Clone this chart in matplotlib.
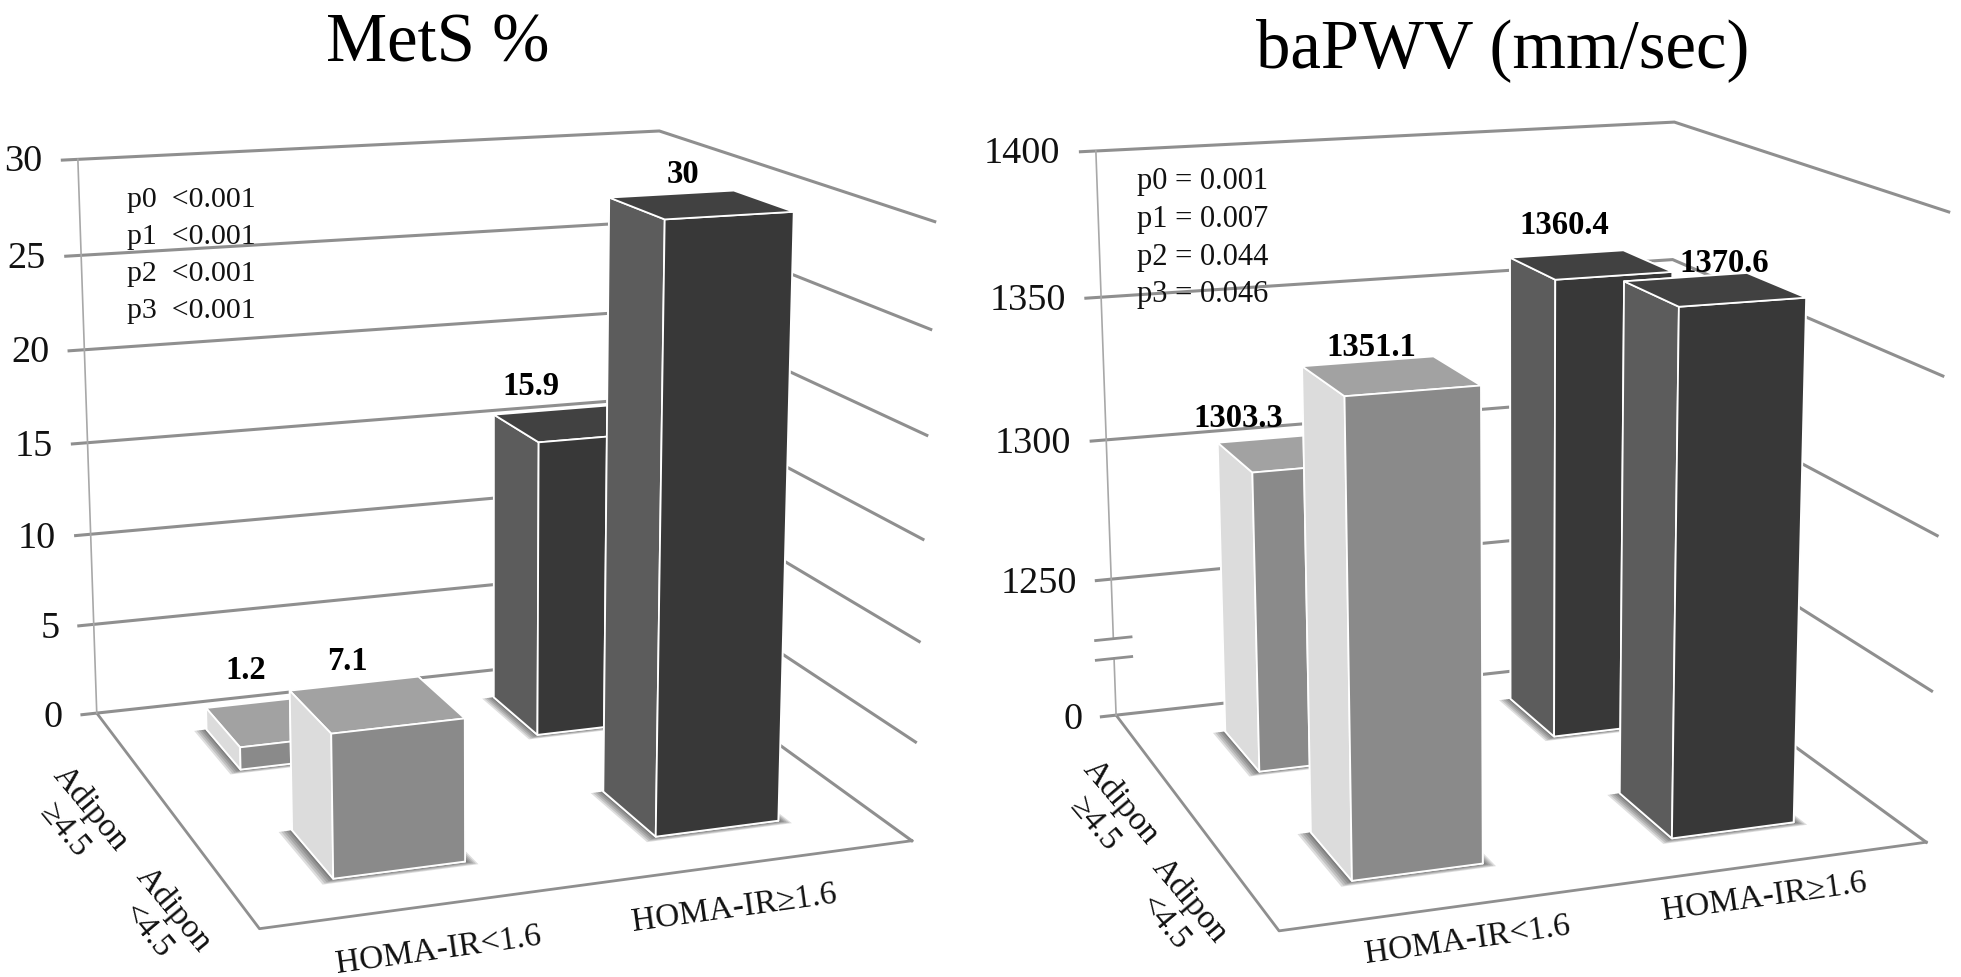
import numpy as np
import matplotlib
matplotlib.use('Agg')
import matplotlib.pyplot as plt
from mpl_toolkits.mplot3d import proj3d
from mpl_toolkits.mplot3d.art3d import Poly3DCollection

W, H = 1961, 978

homa_labels = ['HOMA-IR<1.6', 'HOMA-IR\u22651.6']
adipon_labels = ['Adipon\n\u22654.5', 'Adipon\n<4.5']

# rows: Adipon>=4.5 (back), Adipon<4.5 (front); columns: HOMA-IR groups
mets_back = [1.2, 15.9]
mets_front = [7.1, 30]
mets_ticks = [0, 5, 10, 15, 20, 25, 30]
mets_p = ['p0  <0.001', 'p1  <0.001', 'p2  <0.001', 'p3  <0.001']

pwv_back = [1303.3, 1360.4]
pwv_front = [1351.1, 1370.6]
pwv_ticks = [0, 1250, 1300, 1350, 1400]
pwv_p = ['p0 = 0.001', 'p1 = 0.007', 'p2 = 0.044', 'p3 = 0.046']

plt.rcParams['font.family'] = ['Liberation Serif', 'DejaVu Serif']

LIGHT = {'top': '#a2a2a2', 'front': '#8a8a8a', 'side': '#dcdcdc'}
DARK = {'top': '#414141', 'front': '#383838', 'side': '#5c5c5c'}
GRID = '#8f8f8f'


def camera(corners):
    # fit a projection matrix to the frame corners (world -> image pixels)
    world = [(0, 2, 0), (0, 0, 0), (2, 0, 0), (2, 2, 0), (0, 2, 1), (2, 2, 1), (2, 0, 1)]
    rows = []
    for (x, y, z), (u, v) in zip(world, corners):
        v = H - v
        rows.append([x, y, z, 1, 0, 0, 0, 0, -u*x, -u*y, -u*z, -u])
        rows.append([0, 0, 0, 0, x, y, z, 1, -v*x, -v*y, -v*z, -v])
    p = np.linalg.svd(np.array(rows, dtype=float))[2][-1].reshape(3, 4)
    if p[2] @ np.array([0, 0, 0, 1]) < 0:
        p = -p
    return np.array([p[0], p[1], [0, 0, 0, -1], p[2]])


def draw_panel(corners, top, height, back, front, ticks, plabels, ppos, psize, lab_shift,
               x_lab, y_lab, breaks=None):
    ax = fig.add_axes([0, 0, 1, W/H], projection='3d')
    ax.set_axis_off()
    ax.patch.set_alpha(0)
    ax.computed_zorder = False
    ax.set_proj_type('ortho')  # only switches off line clipping, get_proj is replaced below
    ax.set_xticks([])
    ax.set_yticks([])
    ax.set_zticks([])
    ax.viewLim.intervalx = (0, W)
    ax.viewLim.intervaly = (0, W)
    # camera is fitted with z in 0..1 of the wall height
    m = camera(corners) @ np.diag([1, 1, 1/top, 1])
    ax.get_proj = lambda: m

    def put_text(x, y, z, s, direction=None, **kw):
        px, py, _ = proj3d.proj_transform(x, y, z, m)
        angle = 0
        if direction is not None:
            qx, qy, _ = proj3d.proj_transform(x + direction[0], y + direction[1], z, m)
            angle = np.degrees(np.arctan2(qy - py, qx - px))
        fig.text(px/W, py/H, s, rotation=angle, rotation_mode='anchor', **kw)

    # walls and floor
    for t in ticks:
        z = height(t)
        ax.plot([-0.05, 2, 2], [2, 2, 0], [z, z, z], color=GRID, lw=2.2, zorder=1,
                solid_joinstyle='miter')
        put_text(-0.115, 2, z, str(t), ha='right', va='center', fontsize=27.5, color='#111111')
    ax.plot([0, 0, 2], [2, 0, 0], [0, 0, 0], color=GRID, lw=2, zorder=1)
    if breaks is None:
        ax.plot([0, 0], [2, 2], [0, top], color='#a8a8a8', lw=1.2, zorder=1)
    else:
        ax.plot([0, 0], [2, 2], [0, breaks[0]], color='#a8a8a8', lw=1.2, zorder=1)
        ax.plot([0, 0], [2, 2], [breaks[1], top], color='#a8a8a8', lw=1.2, zorder=1)
        for b in breaks:
            ax.plot([-0.06, 0.06], [2, 2], [b, b], color=GRID, lw=2, zorder=1)

    # bars, back row first
    order = [(i, 1.5, back[i]) for i in range(2)] + [(i, 0.5, front[i]) for i in range(2)]
    for n, (i, cy, v) in enumerate(order):
        x0, y0 = i + 0.3, cy - 0.21
        dx, dy = 0.4, 0.42
        tone = LIGHT if i == 0 else DARK
        for pad in [0.042, 0.034, 0.026, 0.018, 0.01]:
            sx0, sx1, sy0, sy1 = x0 - pad, x0 + dx + pad*0.7, y0 - pad*0.8, y0 + dy
            shadow = Poly3DCollection([[(sx0, sy0, 0), (sx1, sy0, 0), (sx1, sy1, 0), (sx0, sy1, 0)]],
                                      facecolor=(0, 0, 0, 0.13), edgecolor='none', zorder=2 + n*2)
            ax.add_collection3d(shadow)
        # face order of bar3d: bottom, top, front, back, left, right
        colors = [tone['front'], tone['top'], tone['front'], tone['front'], tone['side'], tone['front']]
        ax.bar3d(x0, y0, 0, dx, dy, height(v), color=colors, shade=False, edgecolor='white',
                 linewidth=1.3, zorder=3 + n*2)
        sx, sz = lab_shift[n]
        put_text(i + 0.5 + sx, cy, height(v) + sz, f'{v:g}', ha='center', va='center', fontsize=23.5,
                 fontweight='bold', color='black')

    for lab, (x, y) in zip(homa_labels, x_lab):
        put_text(x, y, 0, lab, direction=(1, 0), ha='center', va='center', fontsize=24, color='#111111')
    for lab, (x, y) in zip(adipon_labels, y_lab):
        put_text(x, y, 0, lab, direction=(0.05, -1), ha='center', va='center', fontsize=24,
                 linespacing=1.15, color='#111111')

    for lab, (px, py) in zip(plabels, ppos):
        fig.text(px/W, 1 - py/H, lab, ha='left', va='center', fontsize=psize, color='#111111')


fig = plt.figure(figsize=(W/100, H/100), dpi=100)

draw_panel([(97, 715), (259, 929), (912, 842), (652, 653), (78, 160), (659, 132), (935, 223)],
           30, lambda v: v, mets_back, mets_front, mets_ticks, mets_p,
           [(127, 200), (127, 237), (127, 274), (127, 311)], 21.5,
           [(-0.12, 3.0), (-0.15, 2.25), (-0.085, 2.3), (-0.055, 1.5)],
           [(0.415, -0.31), (1.29, -0.30)], [(-0.28, 1.03), (-0.24, 0.16)])


def pwv_height(v):
    return (v - 1200)/50 if v >= 1200 else v


draw_panel([(1116, 716), (1279, 932), (1926, 843), (1668, 655), (1096, 152), (1674, 123), (1949, 213)],
           4, pwv_height, pwv_back, pwv_front, pwv_ticks, pwv_p,
           [(1137, 182), (1137, 219), (1137, 257), (1137, 295)], 22,
           [(-0.185, 0.27), (-0.09, 0.29), (-0.055, 0.19), (0.03, 0.164)],
           [(0.47, -0.24), (1.366, -0.23)], [(-0.235, 1.09), (-0.23, 0.24)],
           breaks=(0.42, 0.565))

fig.text(438/W, 1 - 62/H, 'MetS %', ha='center', va='baseline', fontsize=49.5, color='black')
fig.text(1503/W, 1 - 67/H, 'baPWV (mm/sec)', ha='center', va='baseline', fontsize=49.5, color='black')

fig.savefig('out.png', dpi=100, facecolor='white')
